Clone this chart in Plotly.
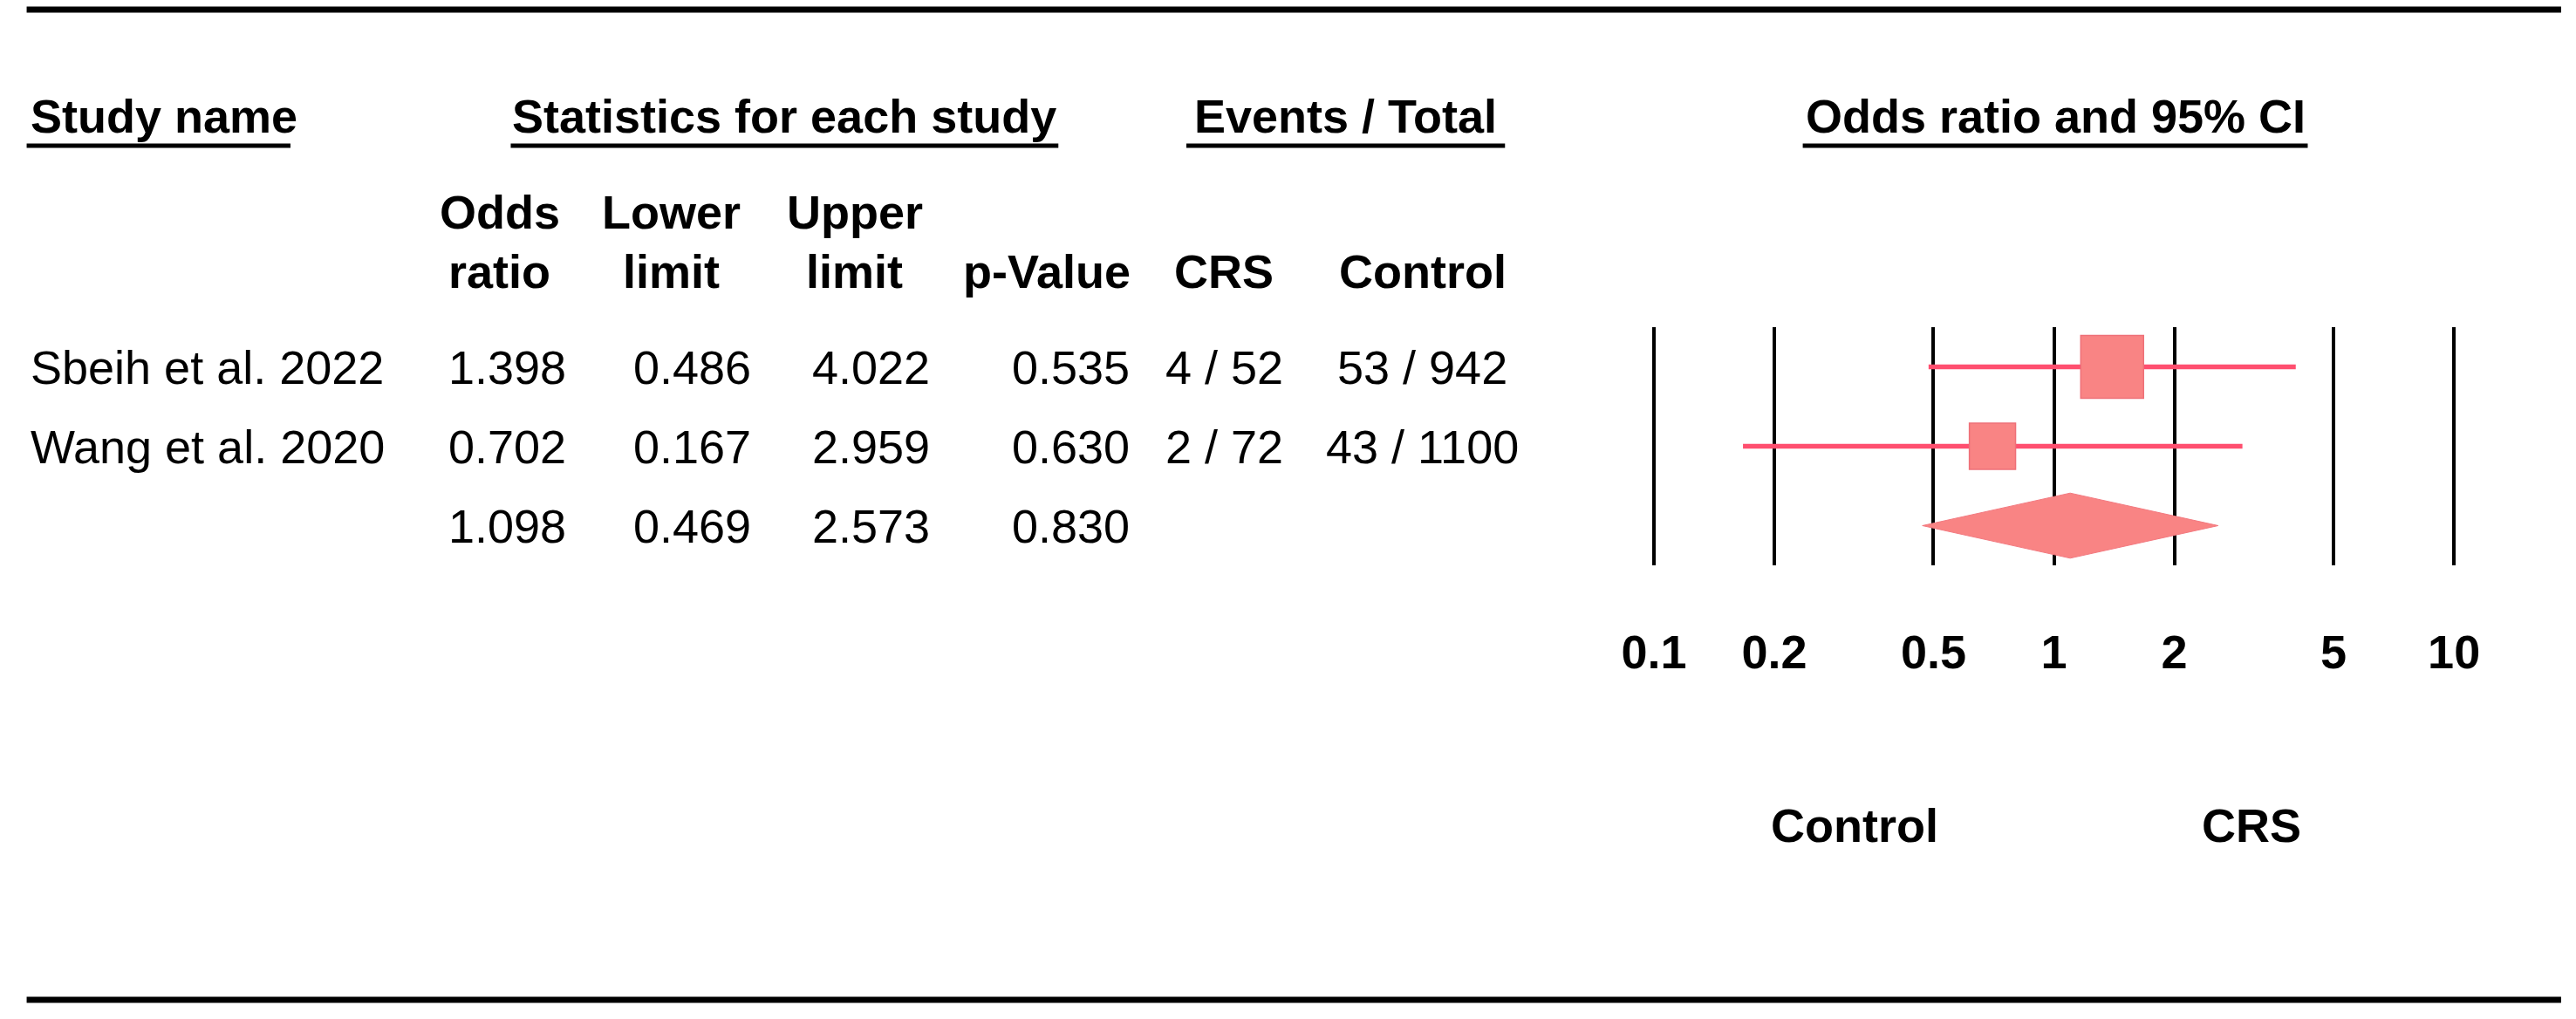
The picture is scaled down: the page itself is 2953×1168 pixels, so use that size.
import numpy as np
import plotly.graph_objects as go

# ---------------- data ----------------
studies = ["Sbeih et al. 2022", "Wang et al. 2020"]
odds_ratio = [1.398, 0.702, 1.098]      # last = pooled
lower_limit = [0.486, 0.167, 0.469]
upper_limit = [4.022, 2.959, 2.573]
p_values = [0.535, 0.630, 0.830]
crs_events = [4, 2]
crs_total = [52, 72]
control_events = [53, 43]
control_total = [942, 1100]
tick_values = [0.1, 0.2, 0.5, 1, 2, 5, 10]
tick_labels = ["0.1", "0.2", "0.5", "1", "2", "5", "10"]
favours_labels = ["Control", "CRS"]

# ---------------- layout helpers ----------------
W, H = 2953, 1168
FONT = "Liberation Sans, Arial, sans-serif"
FS = 54
FILL = "#F98484"
LINE = "#FF4F6F"


def X(x):
    # horizontal calibration of layout positions
    return 1.0149 * x - 24.8


def px(x):
    return X(x) / W


def py(y):
    return 1 - y / H


fig = go.Figure()

# inverse-variance weights -> box sizes
se = (np.log(upper_limit[:2]) - np.log(lower_limit[:2])) / (2 * 1.96)
w = 1 / se ** 2
sizes = 72 * np.sqrt(w / w.max())

rows = list(range(len(studies)))
for i in rows:
    fig.add_trace(go.Scatter(x=[lower_limit[i], upper_limit[i]], y=[i, i], mode="lines",
                             line=dict(color=LINE, width=5.5), hoverinfo="skip", showlegend=False))
fig.add_trace(go.Scatter(x=odds_ratio[:2], y=rows, mode="markers",
                         marker=dict(symbol="square", size=sizes, color=FILL, opacity=1,
                                     line=dict(color="#EE7078", width=1.5)),
                         showlegend=False))
# pooled diamond
k = len(studies)
hh = 0.41
fig.add_trace(go.Scatter(x=[lower_limit[k], odds_ratio[k], upper_limit[k], odds_ratio[k], lower_limit[k]],
                         y=[k, k - hh, k, k + hh, k], mode="lines", fill="toself",
                         fillcolor=FILL, line=dict(color="#F27A80", width=1),
                         showlegend=False))

ann = []


def add_text(text, x, y, xanchor="center", bold=False, yref="paper"):
    ann.append(dict(text=f"<b>{text}</b>" if bold else text, x=x, y=y, xref="paper", yref=yref,
                    xanchor=xanchor, yanchor="middle", showarrow=False,
                    font=dict(family=FONT, size=FS, color="black")))


# header row 1
add_text("Study name", px(29), py(133), "left", True)
add_text("Statistics for each study", px(897), py(133), "center", True)
add_text("Events / Total", px(1542), py(133), "center", True)
add_text("Odds ratio and 95% CI", px(2357), py(133), "center", True)

# header row 2
for t, x in [("Odds", 570), ("Lower", 767), ("Upper", 978)]:
    add_text(t, px(x), py(243), "center", True)
for t, x in [("ratio", 570), ("limit", 767), ("limit", 978), ("p-Value", 1199),
             ("CRS", 1402), ("Control", 1631)]:
    add_text(t, px(x), py(311), "center", True)

# data rows
for i, name in enumerate(studies):
    add_text(name, px(29), i, "left", yref="y")
    add_text(f"{crs_events[i]} / {crs_total[i]}", px(1403), i, "center", yref="y")
    add_text(f"{control_events[i]} / {control_total[i]}", px(1630), i, "center", yref="y")
for i in range(len(odds_ratio)):
    add_text(f"{odds_ratio[i]:.3f}", px(649), i, "right", yref="y")
    add_text(f"{lower_limit[i]:.3f}", px(861), i, "right", yref="y")
    add_text(f"{upper_limit[i]:.3f}", px(1066), i, "right", yref="y")
    add_text(f"{p_values[i]:.3f}", px(1296), i, "right", yref="y")

# favours labels
add_text(favours_labels[0], px(2127), py(946), "center", True)
add_text(favours_labels[1], px(2582), py(946), "center", True)

shapes = []
for yy in (11, 1146):
    shapes.append(dict(type="line", xref="paper", yref="paper", x0=px(27), x1=px(2938),
                       y0=py(yy), y1=py(yy), line=dict(color="black", width=7)))
for x0, x1 in [(27, 330), (583, 1212), (1359, 1725), (2067, 2647)]:
    shapes.append(dict(type="line", xref="paper", yref="paper", x0=px(x0), x1=px(x1),
                       y0=py(167), y1=py(167), line=dict(color="black", width=5)))

# log axis: 0.1 at x=1896 px, 10 at x=2815 px; pad range slightly so edge gridlines show
DEC = (2815 - 1896) / 2.0
PAD = 0.02
fig.update_layout(
    width=W, height=H, margin=dict(l=0, r=0, t=0, b=0),
    paper_bgcolor="white", plot_bgcolor="white",
    annotations=ann, shapes=shapes, showlegend=False,
    xaxis=dict(type="log", domain=[px(1896 - PAD * DEC), px(2815 + PAD * DEC)],
               range=[-1 - PAD, 1 + PAD],
               tickmode="array", tickvals=tick_values, ticktext=tick_labels,
               showgrid=True, gridcolor="black", gridwidth=3.5, showline=False, zeroline=False,
               ticks="outside", ticklen=52, tickcolor="rgba(0,0,0,0)",
               tickfont=dict(family=FONT, size=FS, color="black", weight="bold"),
               fixedrange=True),
    yaxis=dict(domain=[py(648), py(375)], range=[2.5, -0.5], visible=False,
               showgrid=False, zeroline=False, fixedrange=True),
)

fig.write_html("out.html", config={"displayModeBar": False},
               post_script="document.body.style.margin='0';document.body.style.overflow='hidden';")
